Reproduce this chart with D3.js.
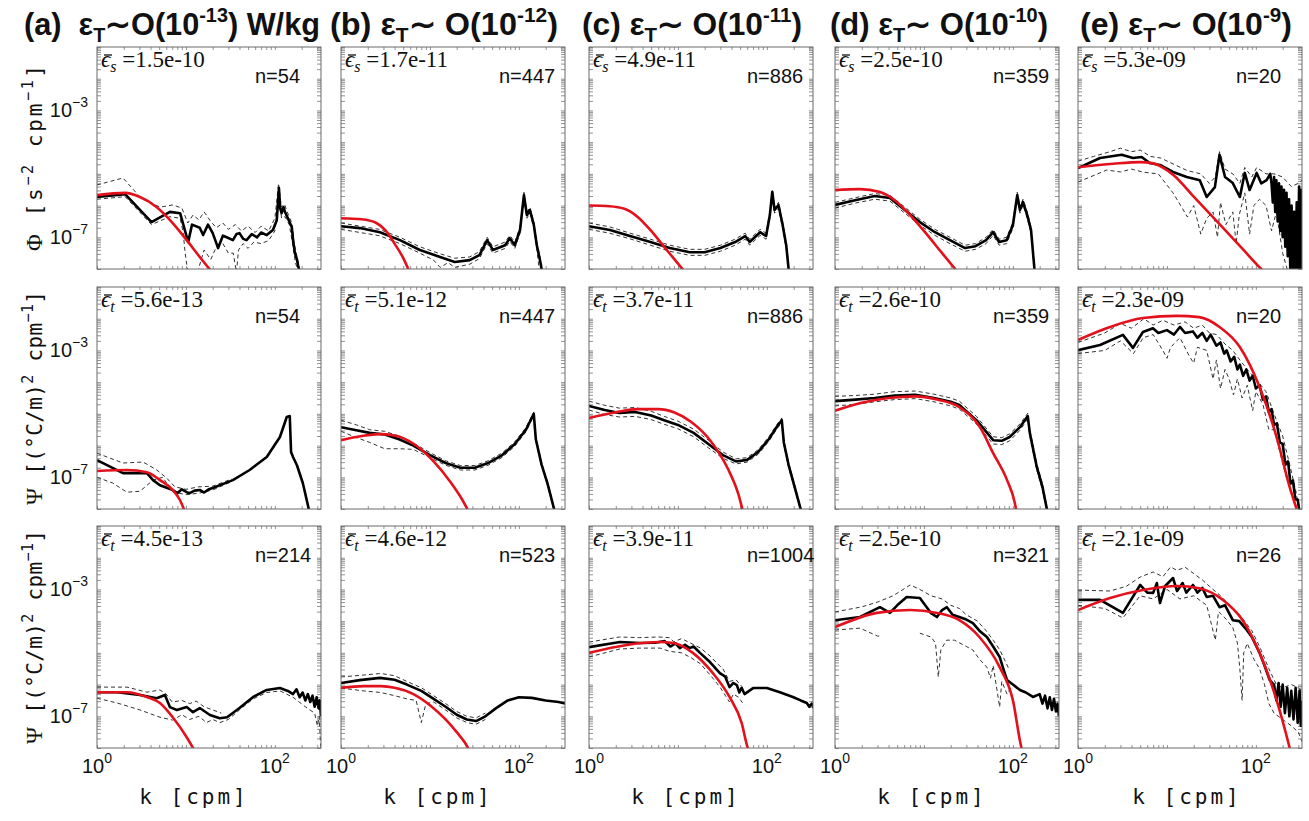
<!DOCTYPE html>
<html>
<head>
<meta charset="utf-8">
<script src="https://cdn.jsdelivr.net/npm/d3@7"></script>
<style>
  body { margin: 0; background: #fff; }
</style>
</head>
<body>
<div id="chart"></div>
<script>
// Spectra as [k (cpm), log10 of spectral level].
// Row 1: shear spectra Phi
const meanA1 = [[1,-5.73],[2.07,-5.64],[4.1,-6.52],[6.6,-6.2],[8.6,-6.24],[10.6,-7.15],[11.7,-6.6],[14.3,-6.7],[15.6,-6.93],[17.7,-6.6],[20,-6.87],[23,-7.34],[26,-6.95],[28.7,-7.0],[33.7,-7.09],[37,-6.9],[40,-6.87],[44,-7.05],[48,-7.09],[55,-6.9],[63,-7.0],[70,-6.85],[81,-6.93],[95,-6.77],[105,-6.46],[111,-5.45],[115,-6.1],[119,-6.24],[125,-6.05],[130,-6.2],[140,-6.4],[155,-6.68],[160,-7.09],[168,-7.5],[177,-7.7],[182,-7.88],[190,-8.1]];
const upA1 = [[1,-5.35],[1.96,-5.13],[3.04,-5.73],[5.1,-6.05],[7.1,-5.98],[9,-6.08],[10.5,-6.55],[12,-6.3],[14,-6.45],[16,-6.2],[19,-6.5],[22,-6.7],[26,-6.55],[30,-6.75],[36,-6.6],[42,-6.8],[50,-6.65],[60,-6.85],[70,-6.65],[85,-6.8],[100,-6.4],[110,-5.3],[118,-6.05],[128,-5.95],[140,-6.25],[155,-6.55],[165,-7.2],[180,-7.7],[192,-8.1]];
const lowA1 = [[1,-5.8],[2.07,-5.72],[4.1,-6.6],[6.6,-6.35],[8.6,-6.4],[9.3,-6.84],[9.8,-7.5],[10.5,-8.1],[13.5,-8.1],[16,-7.4],[19,-7.7],[22,-7.3],[26,-7.2],[30,-7.5],[34,-7.5],[37,-8.1],[39,-7.4],[44,-7.2],[50,-7.35],[58,-7.15],[70,-7.2],[85,-7.1],[100,-6.8],[111,-5.7],[119,-6.4],[130,-6.35],[145,-6.6],[158,-7.2],[170,-7.8],[185,-8.1]];
const fitA1 = [[1,-5.67],[2.07,-5.6],[3.04,-5.73],[4.7,-6.05],[7.1,-6.55],[10.2,-7.09],[14.3,-7.62],[19.6,-8.1]];

const meanB1 = [[1,-6.65],[1.63,-6.71],[2.74,-6.84],[4.6,-7.09],[7.7,-7.4],[13,-7.62],[19,-7.78],[28,-7.72],[36,-7.56],[44,-7.09],[51,-7.4],[70,-7.25],[79,-7.03],[90,-7.25],[103,-6.77],[114,-5.67],[123,-6.3],[133,-6.14],[147,-6.6],[159,-7.25],[172,-7.7],[183,-8.1]];
const upB1 = [[1,-6.55],[2.7,-6.75],[4.6,-7.0],[7.7,-7.3],[13,-7.52],[19,-7.66],[28,-7.62],[36,-7.45],[44,-7.0],[51,-7.3],[70,-7.15],[79,-6.94],[90,-7.15],[103,-6.68],[114,-5.58],[123,-6.2],[133,-6.05],[147,-6.5],[159,-7.15],[172,-7.6],[184,-8.1]];
const lowB1 = [[1,-6.75],[2.7,-6.95],[4.6,-7.2],[7.7,-7.5],[11,-7.72],[13,-7.95],[16,-7.8],[19,-7.95],[28,-7.85],[36,-7.67],[44,-7.2],[51,-7.5],[70,-7.35],[79,-7.13],[90,-7.35],[103,-6.87],[114,-5.78],[123,-6.4],[133,-6.24],[147,-6.7],[159,-7.35],[170,-8.1]];
const fitB1 = [[1,-6.4],[1.7,-6.43],[2.5,-6.55],[3.2,-6.8],[4,-7.2],[5,-7.65],[5.9,-8.1]];

const meanC1 = [[1,-6.65],[1.72,-6.77],[2.89,-6.96],[4.9,-7.15],[8.1,-7.34],[13.6,-7.47],[20,-7.47],[30,-7.34],[44,-7.15],[57,-6.96],[64,-7.15],[84,-6.84],[98,-6.96],[108,-6.3],[115,-5.57],[122,-6.14],[135,-5.98],[150,-6.6],[165,-7.25],[177,-8.1]];
const upC1 = [[1,-6.55],[1.7,-6.67],[2.9,-6.87],[4.9,-7.06],[8.1,-7.25],[13.6,-7.38],[20,-7.38],[30,-7.25],[44,-7.06],[57,-6.87],[64,-7.06],[84,-6.75],[98,-6.87],[108,-6.2],[115,-5.48],[122,-6.05],[135,-5.9],[150,-6.5],[165,-7.15],[178,-8.1]];
const lowC1 = [[1,-6.75],[1.7,-6.87],[2.9,-7.05],[4.9,-7.25],[8.1,-7.44],[13.6,-7.57],[20,-7.57],[30,-7.44],[44,-7.25],[57,-7.06],[64,-7.25],[84,-6.94],[98,-7.06],[108,-6.4],[115,-5.67],[122,-6.24],[135,-6.08],[150,-6.7],[165,-7.35],[176,-8.1]];
const fitC1 = [[1,-6.0],[1.7,-6.02],[2.5,-6.1],[3.5,-6.35],[5,-6.8],[7,-7.3],[9.5,-7.75],[12,-8.1]];

const meanD1 = [[1,-5.98],[1.68,-5.83],[2.8,-5.7],[4.15,-5.76],[6.1,-6.14],[9,-6.52],[13.3,-6.84],[19.6,-7.09],[29,-7.34],[38,-7.28],[50,-7.09],[60,-6.84],[70,-7.15],[85,-7.09],[100,-6.62],[112,-5.67],[120,-6.14],[130,-5.89],[145,-6.3],[160,-6.77],[176,-8.1]];
const upD1 = [[1,-5.9],[1.7,-5.75],[2.8,-5.62],[4.15,-5.68],[6.1,-6.05],[9,-6.43],[13.3,-6.75],[19.6,-7.0],[29,-7.25],[38,-7.2],[50,-7.0],[60,-6.75],[70,-7.06],[85,-7.0],[100,-6.53],[112,-5.58],[120,-6.05],[130,-5.8],[145,-6.2],[160,-6.68],[177,-8.1]];
const lowD1 = [[1,-6.08],[1.7,-5.92],[2.8,-5.8],[4.15,-5.86],[6.1,-6.24],[9,-6.62],[13.3,-6.94],[19.6,-7.2],[29,-7.44],[38,-7.38],[50,-7.2],[60,-6.94],[70,-7.25],[85,-7.2],[100,-6.72],[112,-5.77],[120,-6.24],[130,-5.98],[145,-6.4],[160,-6.87],[175,-8.1]];
const fitD1 = [[1,-5.51],[1.9,-5.48],[3.2,-5.57],[4.7,-5.83],[7,-6.3],[10.5,-6.87],[16,-7.5],[24,-8.1]];

const meanE1 = [[1,-4.82],[1.77,-4.5],[3.1,-4.4],[4.15,-4.5],[5.2,-4.47],[6.4,-4.66],[8.35,-4.72],[11.7,-4.94],[16.7,-5.1],[23.4,-5.2],[28,-5.73],[34.6,-5.42],[39,-4.4],[45,-5.1],[55,-5.29],[66,-5.73],[75,-4.97],[85,-5.51],[102,-4.97],[115,-5.3],[132,-5.2],[145,-5.0],[150,-5.3],[155,-5.9],[160,-5.1],[165,-6.2],[170,-5.2],[176,-6.5],[182,-5.3],[188,-6.8],[194,-5.4],[200,-7.0],[207,-5.5],[214,-7.3],[221,-5.6],[228,-7.6],[236,-5.8],[244,-8.1],[252,-6.0],[260,-8.1],[269,-6.2],[278,-8.1],[288,-5.9],[298,-8.1],[306,-5.4],[314,-8.1],[322,-5.5],[330,-8.1]];
const upE1 = [[1,-4.6],[1.5,-4.45],[2.3,-4.3],[3,-4.19],[4,-4.3],[5,-4.25],[6.5,-4.45],[8.5,-4.5],[12,-4.7],[17,-4.9],[24,-5.0],[30,-5.3],[35,-5.1],[39,-4.3],[45,-4.85],[55,-5.0],[66,-5.3],[75,-4.8],[90,-5.1],[102,-4.8],[130,-5.0],[160,-5.0],[200,-5.1],[250,-5.4],[300,-5.3],[330,-5.2]];
const lowE1 = [[1,-5.26],[2.1,-4.88],[3,-4.94],[4,-4.85],[5.5,-4.95],[8,-5.0],[11.7,-5.6],[15,-6.1],[17,-6.36],[20,-6.0],[24,-6.9],[28,-6.4],[33,-6.2],[37,-7.0],[40,-5.9],[46,-6.6],[55,-6.2],[60,-7.2],[65,-6.3],[75,-5.6],[85,-6.9],[95,-6.0],[110,-5.8],[130,-6.0],[150,-6.8],[170,-6.2],[200,-7.5],[230,-8.1]];
const fitE1 = [[1,-4.79],[2.5,-4.68],[5,-4.63],[7,-4.67],[9,-4.8],[12,-5.05],[20,-5.72],[40,-6.62],[70,-7.35],[115,-8.0],[125,-8.1]];

// Row 2: temperature gradient spectra Psi (first set)
const meanA2 = [[1,-6.46],[1.96,-6.87],[3.64,-6.87],[4.27,-7.09],[5.1,-7.25],[7.1,-7.4],[8,-7.5],[9,-7.38],[10.2,-7.47],[11,-7.5],[12.5,-7.42],[14.3,-7.4],[16,-7.48],[18,-7.38],[20,-7.34],[33.7,-7.09],[52,-6.77],[81,-6.36],[114,-5.73],[136,-5.1],[147,-5.07],[152,-6.2],[160,-6.36],[177,-6.62],[206,-7.18],[245,-8.1]];
const upA2 = [[1,-6.24],[1.96,-6.55],[3.3,-6.52],[4.7,-6.77],[6.1,-7.03],[7.5,-7.3],[10,-7.38],[14,-7.3],[20,-7.28],[33,-7.05]];
const lowA2 = [[1,-7.0],[1.5,-7.18],[2.17,-7.47],[3.04,-7.44],[4.27,-7.09],[5.5,-7.0],[7,-7.45],[10,-7.55],[14,-7.5],[20,-7.4],[33,-7.13]];
const fitA2 = [[1,-6.8],[2.17,-6.77],[3.64,-6.84],[5.1,-7.09],[7.1,-7.4],[8.5,-7.7],[9.8,-8.1]];

const meanB2 = [[1,-5.42],[1.44,-5.51],[2.1,-5.6],[3.1,-5.65],[4.5,-5.8],[6.5,-6.0],[10,-6.3],[15,-6.55],[22,-6.7],[32,-6.7],[45,-6.55],[65,-6.3],[90,-5.95],[120,-5.5],[147,-5.0],[155,-5.8],[180,-6.6],[210,-7.2],[254,-8.1]];
const upB2 = [[1,-5.2],[1.5,-5.35],[2.1,-5.5],[3.1,-5.55],[4.5,-5.7],[6.5,-5.92],[10,-6.22],[15,-6.48],[22,-6.63],[32,-6.63],[45,-6.48],[65,-6.23],[90,-5.88],[120,-5.43],[147,-4.94],[155,-5.75],[180,-6.55],[210,-7.15],[256,-8.1]];
const lowB2 = [[1,-5.55],[1.5,-5.75],[2.1,-5.9],[3.1,-6.1],[4.5,-6.1],[6.5,-6.12],[10,-6.38],[15,-6.62],[22,-6.77],[32,-6.77],[45,-6.62],[65,-6.37],[90,-6.02],[120,-5.57],[147,-5.06],[155,-5.85],[180,-6.65],[210,-7.25],[252,-8.1]];
const fitB2 = [[1,-5.83],[1.7,-5.7],[2.7,-5.64],[4,-5.68],[6.6,-5.95],[11,-6.5],[17,-7.15],[23,-7.7],[27.5,-8.1]];

const meanC2 = [[1,-4.75],[1.5,-4.88],[2.2,-4.97],[3.3,-4.94],[5,-5.05],[7,-5.2],[10,-5.35],[15,-5.6],[22,-5.95],[32,-6.3],[45,-6.5],[60,-6.45],[80,-6.2],[105,-5.8],[130,-5.4],[147,-5.2],[155,-5.9],[175,-6.6],[205,-7.3],[245,-8.1]];
const upC2 = [[1,-4.6],[1.5,-4.73],[2.2,-4.82],[3.3,-4.8],[5,-4.92],[7,-5.08],[10,-5.23],[15,-5.48],[22,-5.83],[32,-6.2],[45,-6.42],[60,-6.38],[80,-6.13],[105,-5.73],[130,-5.33],[147,-5.13],[155,-5.83],[175,-6.53],[205,-7.23],[247,-8.1]];
const lowC2 = [[1,-4.88],[1.5,-5.02],[2.2,-5.1],[3.3,-5.08],[5,-5.18],[7,-5.33],[10,-5.47],[15,-5.72],[22,-6.07],[32,-6.4],[45,-6.58],[60,-6.52],[80,-6.27],[105,-5.87],[130,-5.47],[147,-5.27],[155,-5.97],[175,-6.67],[205,-7.37],[243,-8.1]];
const fitC2 = [[1,-5.13],[2,-4.95],[3.5,-4.85],[6,-4.85],[9,-4.95],[14,-5.25],[24,-5.9],[36,-6.7],[48,-7.55],[54,-8.1]];

const meanD2 = [[1,-4.6],[1.7,-4.55],[2.8,-4.5],[4.7,-4.42],[8,-4.4],[13,-4.5],[20,-4.62],[25,-4.72],[39,-5.2],[60,-5.83],[75,-5.85],[92,-5.73],[120,-5.42],[147,-5.07],[155,-5.6],[186,-6.68],[215,-7.3],[245,-8.1]];
const upD2 = [[1,-4.45],[1.7,-4.42],[2.8,-4.38],[4.7,-4.3],[8,-4.28],[13,-4.38],[20,-4.5],[25,-4.6],[39,-5.08],[60,-5.72],[75,-5.75],[92,-5.63],[120,-5.32],[147,-4.98],[155,-5.5],[186,-6.58],[215,-7.2],[247,-8.1]];
const lowD2 = [[1,-4.75],[1.7,-4.7],[2.8,-4.62],[4.7,-4.55],[8,-4.52],[13,-4.62],[20,-4.75],[25,-4.85],[39,-5.32],[60,-5.95],[75,-5.97],[92,-5.85],[120,-5.52],[147,-5.16],[155,-5.7],[186,-6.78],[215,-7.4],[243,-8.1]];
const fitD2 = [[1,-4.9],[2,-4.65],[4,-4.5],[8,-4.45],[14,-4.55],[25,-4.79],[42.6,-5.42],[60,-6.24],[86,-7.09],[105,-7.8],[110,-8.1]];

const meanE2 = [[1,-2.99],[1.77,-2.83],[3.2,-2.51],[4.15,-2.92],[5.37,-2.42],[6.96,-2.3],[8,-2.45],[10,-2.36],[12,-2.5],[14,-2.26],[16,-2.45],[19.6,-2.4],[22,-2.6],[25,-2.45],[28,-2.7],[31,-2.5],[36,-2.85],[40,-2.75],[44,-3.1],[47,-3.0],[52,-3.35],[57,-3.2],[62,-3.6],[66,-3.45],[72,-3.8],[78,-3.6],[85,-3.95],[92,-3.8],[100,-4.2],[110,-4.1],[120,-4.55],[130,-4.45],[140,-4.95],[150,-4.85],[160,-5.35],[172,-5.3],[186,-5.9],[200,-5.95],[215,-6.6],[230,-6.5],[245,-7.2],[261,-7.1],[278,-7.7],[295,-7.7],[310,-8.1]];
const upE2 = [[1,-2.75],[2,-2.45],[3,-2.15],[4,-2.3],[5.5,-2.0],[7,-2.2],[9,-2.05],[12,-2.2],[16,-2.1],[20,-2.3],[25,-2.2],[30,-2.45],[36,-2.5],[45,-2.8],[55,-3.0],[66,-3.3],[80,-3.6],[100,-3.9],[130,-4.3],[160,-5.0],[200,-5.7],[240,-6.6],[280,-7.4],[310,-8.1]];
const lowE2 = [[1,-3.1],[2,-3.0],[3,-2.7],[4.2,-3.1],[5.4,-2.6],[7,-2.5],[9,-3.0],[10,-3.25],[11,-2.9],[14,-2.6],[18,-3.2],[20,-3.4],[22,-2.9],[28,-3.0],[33,-3.9],[36,-3.3],[40,-4.2],[45,-3.6],[50,-3.9],[56,-4.4],[62,-3.9],[70,-4.5],[80,-4.1],[92,-4.9],[100,-4.3],[120,-4.7],[140,-5.5],[160,-5.5],[186,-6.2],[220,-7.0],[260,-7.6],[300,-8.1]];
const fitE2 = [[1,-2.67],[2.29,-2.26],[5.37,-1.98],[13,-1.91],[23,-1.95],[39,-2.26],[66,-2.89],[110,-4.15],[171,-5.73],[240,-7.31],[295,-8.1]];

// Row 3: temperature gradient spectra Psi (second set)
const meanA3 = [[1,-6.24],[1.68,-6.24],[3.04,-6.33],[4.7,-6.43],[5.8,-6.33],[6.6,-6.71],[7.9,-6.8],[10.2,-6.71],[12,-6.87],[14.3,-6.74],[18.6,-6.96],[24,-7.06],[29,-7.03],[40,-6.74],[57,-6.39],[81,-6.17],[114,-6.11],[140,-6.2],[160,-6.3],[175,-6.15],[190,-6.4],[205,-6.25],[220,-6.5],[235,-6.3],[250,-6.55],[265,-6.35],[280,-6.7],[295,-6.4],[310,-6.75],[320,-6.5],[330,-7.0]];
const upA3 = [[1,-6.08],[2.17,-6.08],[3.64,-6.24],[5.1,-6.17],[6,-6.3],[7,-6.55],[9,-6.5],[11,-6.6],[13,-6.52],[16,-6.7],[20,-6.8],[25,-6.9]];
const lowA3 = [[1,-6.43],[1.68,-6.58],[3.04,-6.8],[5.1,-7.03],[7.1,-7.12],[9,-6.95],[11,-7.1],[14,-7.0],[17,-7.2],[20,-7.1],[24,-7.2],[30,-7.1],[40,-6.8],[57,-6.45],[81,-6.25],[114,-6.2],[160,-6.4],[220,-6.7],[280,-6.9],[300,-7.3],[315,-7.0],[325,-7.8],[330,-8.0]];
const fitA3 = [[1,-6.24],[2.17,-6.24],[3.64,-6.39],[5.1,-6.58],[7.1,-7.03],[10.2,-7.66],[12.6,-8.1]];

const meanB3 = [[1,-5.95],[1.63,-5.86],[2.74,-5.79],[4,-5.85],[5.5,-6.0],[8,-6.2],[11,-6.45],[15,-6.7],[20,-6.95],[26,-7.1],[33,-7.15],[42,-7.0],[55,-6.75],[75,-6.5],[100,-6.4],[140,-6.42],[200,-6.5],[280,-6.55],[330,-6.6]];
const upB3 = [[1,-5.76],[1.8,-5.7],[2.8,-5.65],[4,-5.72],[5.5,-5.9],[8,-6.1],[11,-6.35],[15,-6.6],[20,-6.85],[26,-7.0],[33,-7.05],[42,-6.9]];
const lowB3 = [[1,-6.11],[1.8,-6.2],[2.8,-6.25],[4,-6.35],[5.5,-6.45],[7,-6.5],[8,-7.2],[9,-6.6],[11,-6.55],[15,-6.8],[20,-7.05],[26,-7.2],[33,-7.25],[42,-7.1]];
const fitB3 = [[1,-6.1],[1.8,-6.05],[2.8,-6.05],[4,-6.1],[6.5,-6.3],[10,-6.65],[15,-7.1],[20,-7.5],[25,-7.85],[28,-8.1]];

const meanC3 = [[1,-4.82],[2.23,-4.66],[3.74,-4.69],[5.5,-4.68],[7.1,-4.63],[8.2,-4.8],[9.4,-4.7],[10.5,-4.85],[12,-4.75],[13.5,-4.85],[15,-4.8],[17.7,-5.0],[22.9,-5.29],[29.6,-5.64],[34,-5.75],[38,-6.08],[42,-5.95],[46,-6.02],[49,-6.25],[52,-6.1],[56,-6.3],[70,-6.11],[100,-6.11],[140,-6.24],[196,-6.39],[240,-6.5],[281,-6.58],[300,-6.7],[320,-6.6],[336,-6.74]];
const upC3 = [[1,-4.66],[2.2,-4.5],[3.7,-4.52],[6,-4.5],[8,-4.52],[9,-4.65],[11,-4.55],[14,-4.7],[18,-4.85],[23,-5.1],[28,-5.35],[32,-5.5],[38,-5.9],[45,-5.85],[52,-6.05]];
const lowC3 = [[1,-5.13],[2.2,-4.88],[3.7,-4.85],[6.3,-4.85],[8,-4.95],[11,-5.0],[14,-5.15],[18,-5.35],[24.7,-5.8],[30,-6.1],[38,-6.55],[42,-6.3],[48,-6.4],[54,-6.6]];
const fitC3 = [[1,-5.0],[2.67,-4.75],[6.3,-4.66],[8.8,-4.69],[14.7,-5.0],[24.7,-5.64],[38,-6.39],[52,-7.21],[61,-8.0],[63,-8.1]];

const meanD3 = [[1,-3.97],[1.91,-3.87],[3.2,-3.56],[4.15,-3.74],[5,-3.5],[6.4,-3.24],[9,-3.27],[11,-3.6],[12,-3.75],[14,-3.87],[16,-3.65],[18.1,-3.56],[21,-3.8],[25,-3.87],[30,-3.95],[35.5,-4.06],[42,-4.3],[51,-4.5],[60,-4.8],[71,-5.13],[78,-5.5],[86,-5.86],[100,-6.0],[120,-6.17],[140,-6.25],[168,-6.39],[200,-6.3],[215,-6.6],[230,-6.35],[245,-6.75],[260,-6.4],[275,-6.8],[290,-6.45],[305,-6.85],[318,-6.6],[330,-7.0]];
const upD3 = [[1,-3.71],[2,-3.55],[3,-3.4],[4.5,-3.2],[7,-2.86],[9,-3.0],[12,-3.2],[16,-3.3],[20,-3.5],[25,-3.6],[30,-3.8],[40,-4.0],[50,-4.3],[60,-4.6],[71,-4.9],[80,-5.2],[90,-5.5]];
const lowD3 = [[1,-4.28],[1.91,-4.22],[3,-4.47],[3.3,-4.47],null,[9,-4.38],[12,-4.5],[13.5,-4.69],[14.5,-5.76],[15.5,-4.9],[18,-4.6],[22,-4.6],[30,-4.8],[35.5,-4.91],[42,-5.2],[51,-5.45],[56,-5.8],[60,-5.4],[71,-6.71],[75,-5.9],[86,-6.3],[95,-6.1]];
const fitD3 = [[1,-4.19],[2.97,-3.74],[7,-3.65],[14,-3.74],[25,-3.97],[42,-4.5],[71,-5.45],[100,-6.49],[125,-8.0],[128,-8.1]];

const meanE3 = [[1,-3.33],[1.77,-3.33],[3.2,-3.74],[5,-2.86],[6,-3.1],[7,-3.11],[7.7,-2.8],[8.35,-3.43],[9.5,-2.9],[11.7,-2.64],[13,-3.05],[15,-2.8],[16.5,-3.1],[19.6,-2.86],[22,-3.1],[25,-2.95],[28,-3.24],[33,-3.2],[39,-3.56],[45,-3.5],[55,-3.97],[65,-4.0],[79,-4.28],[90,-4.5],[110,-5.0],[125,-5.4],[143,-5.86],[160,-6.0],[170,-6.5],[180,-5.95],[190,-6.7],[200,-6.0],[212,-6.9],[225,-6.1],[238,-7.0],[250,-6.2],[265,-7.1],[280,-6.1],[295,-7.2],[310,-6.2],[320,-7.3],[330,-6.5]];
const upE3 = [[1,-3.02],[2.29,-3.05],[3.5,-2.9],[5,-2.61],[7,-2.45],[9,-2.6],[11,-2.29],[13,-2.4],[16,-2.3],[20,-2.5],[25,-2.7],[30,-2.9],[40,-3.2],[55,-3.6],[70,-3.9],[90,-4.3],[110,-4.8],[140,-5.5],[170,-6.0],[200,-6.1],[250,-6.0],[300,-6.1],[330,-6.2]];
const lowE3 = [[1,-3.5],[2,-3.6],[3.2,-3.9],[5,-3.2],[7,-3.3],[10,-3.0],[14,-3.3],[20,-3.2],[28,-3.5],[35,-4.6],[38,-3.7],[45,-3.9],[55,-4.2],[62,-4.69],[66,-5.5],[70,-6.5],[73,-5.0],[80,-4.7],[95,-5.2],[110,-5.5],[125,-6.0],[140,-6.6],[160,-6.9],[200,-7.1],[250,-7.3],[300,-7.5],[330,-7.8]];
const fitE3 = [[1,-3.65],[2.29,-3.27],[5.37,-3.02],[13,-2.89],[23,-2.96],[42.6,-3.33],[71,-3.97],[110,-5.0],[171,-6.49],[240,-8.0],[245,-8.1]];

// Labels
const columnTags = ['(a)', '(b)', '(c)', '(d)', '(e)'];
const columnExps = ['-13', '-12', '-11', '-10', '-9'];
const epsSub = ['s', 't', 't'];
const epsRow1 = ['1.5e-10', '1.7e-11', '4.9e-11', '2.5e-10', '5.3e-09'];
const epsRow2 = ['5.6e-13', '5.1e-12', '3.7e-11', '2.6e-10', '2.3e-09'];
const epsRow3 = ['4.5e-13', '4.6e-12', '3.9e-11', '2.5e-10', '2.1e-09'];
const nRow1 = [54, 447, 886, 359, 20];
const nRow2 = [54, 447, 886, 359, 20];
const nRow3 = [214, 523, 1004, 321, 26];
const yTickVals = [1e-3, 1e-7];
const yTickExps = ['-3', '-7'];
const xTickVals = [1, 100];
const xTickExps = ['0', '2'];

// Layout
const W = 1309, H = 821;
const colX = [97, 341, 589, 835, 1078];
const rowY = [47, 287, 526];
const pw = 224, ph = 222;
const titleX = [24, 330, 582, 830, 1080];
const titleW = [296, 228, 220, 218, 212];
const yLabelLen = [186, 214, 214];

const SANS = '"Liberation Sans", Arial, Helvetica, sans-serif';
const SERIF = '"Liberation Serif", "DejaVu Serif", "Times New Roman", serif';
const MONO = '"DejaVu Sans Mono", "Liberation Mono", monospace';

const x = d3.scaleLog().domain([1, 330]).range([0, pw]);
const y = d3.scaleLog().domain([1e-8, 1e-1]).range([ph, 0]);

const rough = d3.line()
  .defined(d => d !== null)
  .x(d => x(d[0]))
  .y(d => y(Math.pow(10, d[1])));

const smooth = d3.line()
  .curve(d3.curveMonotoneX)
  .x(d => x(d[0]))
  .y(d => y(Math.pow(10, d[1])));

const rows = [
  [[meanA1, upA1, lowA1, fitA1], [meanB1, upB1, lowB1, fitB1], [meanC1, upC1, lowC1, fitC1], [meanD1, upD1, lowD1, fitD1], [meanE1, upE1, lowE1, fitE1]],
  [[meanA2, upA2, lowA2, fitA2], [meanB2, upB2, lowB2, fitB2], [meanC2, upC2, lowC2, fitC2], [meanD2, upD2, lowD2, fitD2], [meanE2, upE2, lowE2, fitE2]],
  [[meanA3, upA3, lowA3, fitA3], [meanB3, upB3, lowB3, fitB3], [meanC3, upC3, lowC3, fitC3], [meanD3, upD3, lowD3, fitD3], [meanE3, upE3, lowE3, fitE3]]
];
const epsRows = [epsRow1, epsRow2, epsRow3];
const nRows = [nRow1, nRow2, nRow3];

const svg = d3.select('#chart')
  .append('svg')
  .attr('width', W)
  .attr('height', H)
  .style('background', '#fff');

svg.append('defs')
  .append('clipPath')
  .attr('id', 'clip')
  .append('rect')
  .attr('width', pw)
  .attr('height', ph);

// Column titles
columnTags.forEach((tag, i) => {
  const t = svg.append('text')
    .attr('x', titleX[i])
    .attr('y', 35)
    .attr('font-family', SANS)
    .attr('font-weight', 'bold')
    .attr('font-size', 31)
    .attr('fill', '#111')
    .attr('textLength', titleW[i])
    .attr('lengthAdjust', 'spacingAndGlyphs');
  t.append('tspan').text(i === 0 ? tag + '\u00a0 ε' : tag + ' ε');
  t.append('tspan').attr('font-size', 20).attr('dy', 7).text('T');
  t.append('tspan').attr('dy', -7).text(i === 0 ? '∼O(10' : '∼ O(10');
  t.append('tspan').attr('font-size', 20).attr('dy', -13).text(columnExps[i]);
  t.append('tspan').attr('dy', 13).text(i === 0 ? ') W/kg' : ')');
});

// Panels
rows.forEach((row, r) => {
  row.forEach((series, c) => {
    const [mean, up, low, fit] = series;
    const g = svg.append('g').attr('transform', `translate(${colX[c]},${rowY[r]})`);

    g.append('rect').attr('width', pw).attr('height', ph).attr('fill', '#fff');

    // ticks, pointing inward
    g.append('g').attr('transform', `translate(0,${ph})`)
      .call(d3.axisBottom(x).tickValues(x.ticks()).tickSize(-3).tickFormat(''));
    g.append('g')
      .call(d3.axisTop(x).tickValues(x.ticks()).tickSize(-3).tickFormat(''));
    g.append('g')
      .call(d3.axisLeft(y).ticks(8).tickSize(-4).tickFormat(''));
    g.append('g').attr('transform', `translate(${pw},0)`)
      .call(d3.axisRight(y).ticks(8).tickSize(-4).tickFormat(''));
    g.selectAll('.domain').remove();
    g.selectAll('.tick line').attr('stroke', '#777').attr('stroke-width', 0.8);

    const plot = g.append('g').attr('clip-path', 'url(#clip)');
    [up, low].forEach(s => {
      plot.append('path')
        .datum(s)
        .attr('d', rough)
        .attr('fill', 'none')
        .attr('stroke', '#333')
        .attr('stroke-width', 1)
        .attr('stroke-dasharray', '4,3');
    });
    plot.append('path')
      .datum(mean)
      .attr('d', rough)
      .attr('fill', 'none')
      .attr('stroke', '#000')
      .attr('stroke-width', 2.6)
      .attr('stroke-linejoin', 'round');
    plot.append('path')
      .datum(fit)
      .attr('d', smooth)
      .attr('fill', 'none')
      .attr('stroke', '#e3111b')
      .attr('stroke-width', 2.6);

    g.append('rect')
      .attr('width', pw)
      .attr('height', ph)
      .attr('fill', 'none')
      .attr('stroke', '#6a6a6a')
      .attr('stroke-width', 1);

    // epsilon label with a bar over the epsilon
    const et = g.append('text')
      .attr('x', 4)
      .attr('y', 20)
      .attr('font-family', SERIF)
      .attr('font-size', 23)
      .attr('fill', '#111');
    et.append('tspan').attr('font-style', 'italic').text('ϵ');
    et.append('tspan').attr('font-style', 'italic').attr('font-size', 16).attr('dy', 5).text(epsSub[r]);
    et.append('tspan').attr('dy', -5).text('\u00a0=' + epsRows[r][c]);
    g.append('line')
      .attr('x1', 7)
      .attr('x2', 15)
      .attr('y1', 8)
      .attr('y2', 8)
      .attr('stroke', '#111')
      .attr('stroke-width', 1.3);

    // sample count
    g.append('text')
      .attr('x', 158)
      .attr('y', 36)
      .attr('font-family', SANS)
      .attr('font-size', 20)
      .attr('fill', '#111')
      .text('n=' + nRows[r][c]);

    // y tick labels on the first column
    if (c === 0) {
      yTickVals.forEach((v, i) => {
        const t = g.append('text')
          .attr('x', -9)
          .attr('y', y(v) + 7)
          .attr('text-anchor', 'end')
          .attr('font-family', SANS)
          .attr('font-size', 20)
          .attr('fill', '#111');
        t.append('tspan').text('10');
        t.append('tspan').attr('font-size', 14).attr('dy', -10).text(yTickExps[i].replace('-', '\u2212'));
      });
    }

    // x tick labels and axis title on the last row
    if (r === 2) {
      xTickVals.forEach((v, i) => {
        const t = g.append('text')
          .attr('x', x(v))
          .attr('y', ph + 25)
          .attr('text-anchor', 'middle')
          .attr('font-family', SANS)
          .attr('font-size', 20)
          .attr('fill', '#111');
        t.append('tspan').text('10');
        t.append('tspan').attr('font-size', 14).attr('dy', -10).text(xTickExps[i]);
      });
      g.append('text')
        .attr('x', pw / 2 - (c === 4 ? 3 : 15))
        .attr('y', ph + 56)
        .attr('text-anchor', 'middle')
        .attr('font-family', MONO)
        .attr('font-size', 21)
        .attr('letter-spacing', 3)
        .attr('fill', '#111')
        .text('k [cpm]');
    }
  });
});

// y axis titles
rowY.forEach((ry, r) => {
  const t = svg.append('text')
    .attr('transform', `translate(42,${ry + ph / 2}) rotate(-90)`)
    .attr('text-anchor', 'middle')
    .attr('font-family', MONO)
    .attr('font-size', 21)
    .attr('fill', '#111')
    .attr('textLength', yLabelLen[r])
    .attr('lengthAdjust', 'spacing');
  t.append('tspan').attr('font-family', SERIF).attr('font-size', 23).text(r === 0 ? 'Φ' : 'Ψ');
  if (r === 0) {
    t.append('tspan').text('\u00a0[s');
    t.append('tspan').attr('font-size', 15).attr('dy', -9).text('\u22122');
    t.append('tspan').attr('dy', 9).text('\u00a0cpm');
  } else {
    t.append('tspan').text('\u00a0[(°C/m)');
    t.append('tspan').attr('font-size', 15).attr('dy', -9).text('2');
    t.append('tspan').attr('dy', 9).text('\u00a0cpm');
  }
  t.append('tspan').attr('font-size', 15).attr('dy', -9).text('\u22121');
  t.append('tspan').attr('dy', 9).text(']');
});
</script>
</body>
</html>
